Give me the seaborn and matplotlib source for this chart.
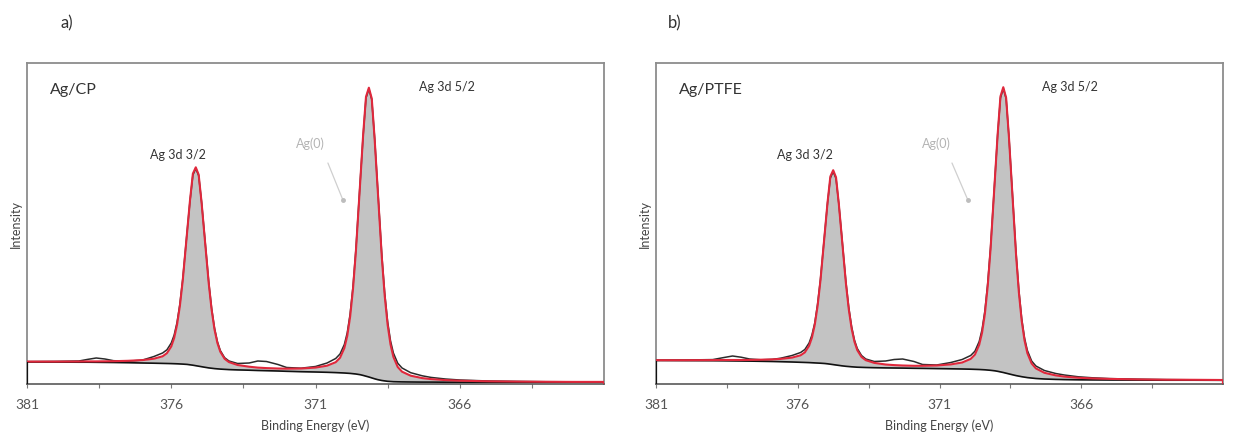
import matplotlib
matplotlib.use("Agg")
import matplotlib.pyplot as plt
import pandas as pd
import seaborn as sns

# ---------------- Ag 3d spectra ----------------
# Panel a: Ag/CP  (binding energy in eV, intensity in a.u.)
be_cp = [
    381.0, 380.0, 379.2, 378.9, 378.6, 378.3, 378.0, 377.5, 377.0, 376.6,
    376.3, 376.15, 376.0, 375.9, 375.8, 375.7, 375.6, 375.45, 375.35, 375.25,
    375.15, 375.05, 374.95, 374.85, 374.7, 374.6, 374.5, 374.4, 374.3, 374.15,
    374.0, 373.7, 373.3, 373.0, 372.7, 372.3, 372.0, 371.5, 371.0, 370.6,
    370.3, 370.15, 370.0, 369.9, 369.8, 369.7, 369.6, 369.45, 369.35, 369.25,
    369.15, 369.05, 368.95, 368.85, 368.7, 368.6, 368.5, 368.4, 368.3, 368.15,
    368.0, 367.7, 367.3, 367.0, 366.5, 366.0, 365.0, 364.0, 363.0, 362.0,
    361.0,
]
raw_cp = [
    22.4, 22.6, 23.0, 24.6, 26.0, 25.0, 23.3, 22.8, 23.9, 27.5,
    31.0, 34.2, 41.0, 48.9, 61.5, 80.1, 105.5, 152.5, 183.0, 209.0,
    215.5, 208.5, 182.5, 150.5, 102.0, 75.7, 56.0, 42.4, 33.5, 26.3,
    23.0, 20.5, 21.0, 23.0, 22.5, 19.5, 16.5, 15.8, 17.5, 21.0,
    25.5, 30.0, 39.5, 51.2, 70.0, 97.7, 134.5, 203.0, 248.0, 286.0,
    295.0, 284.5, 246.0, 199.0, 128.5, 90.7, 62.5, 43.2, 31.0, 20.8,
    16.0, 11.3, 8.2, 6.6, 5.0, 4.0, 3.0, 2.6, 2.3, 2.2,
    2.1,
]
fit_cp = [
    22.4, 22.4, 22.5, 22.6, 22.6, 22.7, 22.8, 23.2, 23.9, 25.3,
    27.7, 30.8, 37.5, 45.9, 59.1, 78.3, 104.1, 151.9, 183.7, 210.4,
    216.7, 209.4, 181.8, 149.1, 100.4, 74.1, 54.4, 41.0, 32.3, 25.2,
    21.9, 19.0, 17.3, 16.4, 15.9, 15.5, 15.3, 15.5, 16.4, 18.3,
    21.8, 26.2, 35.9, 48.0, 67.2, 95.2, 132.7, 202.1, 248.4, 287.2,
    296.3, 285.5, 245.0, 197.2, 126.1, 87.9, 59.2, 39.6, 27.1, 17.0,
    12.3, 8.3, 5.9, 4.9, 3.9, 3.3, 2.7, 2.4, 2.2, 2.1,
    2.1,
]
bkg_cp = [
    22.0, 21.9, 21.8, 21.8, 21.7, 21.6, 21.5, 21.3, 21.0, 20.8,
    20.6, 20.5, 20.4, 20.3, 20.2, 20.05, 19.9, 19.6, 19.2, 18.8,
    18.3, 17.8, 17.3, 16.8, 16.1, 15.75, 15.4, 15.15, 14.9, 14.65,
    14.4, 14.1, 13.8, 13.5, 13.3, 13.0, 12.7, 12.3, 12.0, 11.7,
    11.4, 11.2, 11.0, 10.8, 10.6, 10.3, 10.0, 9.3, 8.6, 7.8,
    7.0, 6.1, 5.2, 4.4, 3.5, 3.1, 2.7, 2.5, 2.3, 2.2,
    2.1, 2.0, 1.9, 1.9, 1.8, 1.8, 1.8, 1.8, 1.8, 1.8,
    1.8,
]

# Panel b: Ag/PTFE
be_ptfe = [
    381.0, 380.0, 379.0, 378.6, 378.3, 378.0, 377.7, 377.3, 376.9, 376.6,
    376.2, 375.9, 375.75, 375.6, 375.5, 375.4, 375.3, 375.2, 375.05, 374.95,
    374.85, 374.75, 374.65, 374.55, 374.45, 374.3, 374.2, 374.1, 374.0, 373.9,
    373.75, 373.6, 373.3, 372.9, 372.6, 372.3, 371.9, 371.6, 371.1, 370.6,
    370.2, 369.9, 369.75, 369.6, 369.5, 369.4, 369.3, 369.2, 369.05, 368.95,
    368.85, 368.75, 368.65, 368.55, 368.45, 368.3, 368.2, 368.1, 368.0, 367.9,
    367.75, 367.6, 367.3, 366.9, 366.6, 366.1, 365.6, 365.0, 364.0, 363.0,
    362.0, 361.0,
]
raw_ptfe = [
    23.8, 24.0, 24.4, 26.5, 28.0, 26.8, 25.0, 24.2, 24.6, 25.8,
    28.5, 31.5, 34.5, 41.0, 49.0, 61.0, 80.0, 104.5, 150.5, 181.0,
    206.0, 212.5, 205.5, 180.0, 149.0, 102.0, 76.5, 57.5, 44.0, 35.5,
    28.5, 25.0, 22.5, 23.0, 24.5, 25.0, 22.5, 19.5, 19.0, 21.5,
    24.5, 28.5, 32.8, 42.5, 54.3, 73.0, 100.5, 136.5, 204.0, 249.0,
    286.0, 295.5, 285.5, 247.5, 201.0, 131.5, 93.8, 65.5, 46.0, 33.5,
    23.0, 18.0, 13.5, 10.5, 9.0, 7.2, 6.2, 5.4, 4.8, 4.4,
    4.2, 4.1,
]
fit_ptfe = [
    23.8, 23.8, 23.9, 24.0, 24.0, 24.0, 24.1, 24.3, 24.6, 25.1,
    26.4, 28.7, 31.6, 38.2, 46.3, 59.2, 78.1, 103.3, 150.0, 181.3,
    207.5, 213.8, 206.7, 179.7, 147.8, 100.3, 74.7, 55.4, 42.3, 33.8,
    27.0, 23.8, 21.1, 19.5, 18.9, 18.5, 18.2, 18.2, 18.5, 19.6,
    21.5, 25.1, 29.4, 39.1, 51.1, 70.0, 97.7, 134.7, 203.3, 249.2,
    287.6, 296.8, 286.3, 246.6, 199.4, 129.3, 91.5, 63.0, 43.5, 30.8,
    20.5, 15.6, 11.2, 8.6, 7.4, 6.2, 5.6, 5.1, 4.6, 4.3,
    4.2, 4.0,
]
bkg_ptfe = [
    23.5, 23.4, 23.3, 23.2, 23.1, 23.0, 22.9, 22.7, 22.5, 22.3,
    22.0, 21.7, 21.55, 21.4, 21.25, 21.1, 20.95, 20.8, 20.5, 20.2,
    19.8, 19.4, 19.0, 18.6, 18.2, 17.7, 17.45, 17.2, 17.0, 16.8,
    16.65, 16.5, 16.3, 16.1, 16.0, 15.9, 15.7, 15.6, 15.4, 15.2,
    15.0, 14.8, 14.65, 14.5, 14.35, 14.2, 13.95, 13.7, 13.2, 12.7,
    12.1, 11.5, 10.8, 10.1, 9.4, 8.4, 7.85, 7.3, 6.85, 6.4,
    5.95, 5.5, 5.0, 4.6, 4.4, 4.2, 4.1, 4.0, 3.9, 3.8,
    3.8, 3.7,
]

major_ticks = [381, 376, 371, 366]
minor_ticks = [378.5, 373.5, 368.5, 363.5]

# ---------------- style ----------------
sns.set_theme(style="white")
plt.rcParams["font.family"] = ["Lato", "DejaVu Sans"]

RED = "#e0283c"
RAW = "#2b2b2b"
BKG = "#111111"
FILL = "#c3c3c3"
FRAME = "#8c8c8c"
TEXT = "#333333"


def panel_frame(be, raw, fit, bkg):
    for arr in (raw, fit, bkg):
        if len(arr) != len(be):
            raise ValueError("series length mismatch")
    return pd.DataFrame({"be": be, "raw": raw, "fit": fit, "bkg": bkg})


def draw_panel(ax, df, sample, lbl32, lbl52, lbl0, leader):
    ax.fill_between(df["be"], df["bkg"], df["fit"], color=FILL, lw=0, zorder=1)
    sns.lineplot(data=df, x="be", y="raw", ax=ax, color=RAW, lw=1.1,
                 estimator=None, sort=False, zorder=3)
    sns.lineplot(data=df, x="be", y="bkg", ax=ax, color=BKG, lw=1.2,
                 estimator=None, sort=False, zorder=3)
    sns.lineplot(data=df, x="be", y="fit", ax=ax, color=RED, lw=1.5,
                 estimator=None, sort=False, zorder=4)
    # closing segments at both ends of the scan
    ax.vlines(df["be"].iloc[0], 0, df["bkg"].iloc[0], color=BKG, lw=1.6, zorder=5)
    ax.vlines(df["be"].iloc[-1], 0, df["fit"].iloc[-1], color=RED, lw=1.6, zorder=5)

    ax.set_xlim(381, 361)
    ax.set_ylim(0, 321)
    ax.set_xticks(major_ticks)
    ax.set_xticklabels([str(t) for t in major_ticks])
    ax.set_xticks(minor_ticks, minor=True)
    ax.set_yticks([])
    ax.tick_params(axis="x", which="both", direction="out", length=3,
                   width=0.8, color="#7a7a7a", pad=8, labelsize=10,
                   labelcolor="#555555", bottom=True)
    for side, sp in ax.spines.items():
        sp.set_visible(True)
        sp.set_color(FRAME)
        sp.set_linewidth(1.3)
    ax.spines["bottom"].set_color("#4a4a4a")
    ax.spines["bottom"].set_linewidth(1.1)

    ax.set_xlabel("Binding Energy (eV)", fontsize=9, color="#444444", labelpad=6)
    ax.set_ylabel("Intensity", fontsize=9, color="#444444", labelpad=4)

    ax.text(0.04, 0.915, sample, transform=ax.transAxes, fontsize=11.5,
            color=TEXT, ha="left", va="center")
    ax.text(lbl32[0], lbl32[1], "Ag 3d 3/2", fontsize=9, color=TEXT,
            ha="center", va="center")
    ax.text(lbl52[0], lbl52[1], "Ag 3d 5/2", fontsize=9, color=TEXT,
            ha="center", va="center")
    ax.text(lbl0[0], lbl0[1], "Ag(0)", fontsize=9, color="#b4b4b4",
            ha="center", va="center")
    (x0, y0), (x1, y1) = leader
    ax.plot([x0, x1], [y0, y1], color="#cfcfcf", lw=0.9, zorder=2)
    ax.plot([x1], [y1], "o", color="#bdbdbd", ms=2.5, zorder=2)


fig = plt.figure(figsize=(12.33, 4.43), dpi=100)
ax_a = fig.add_axes([27 / 1233, 59 / 443, 577 / 1233, 321 / 443])
ax_b = fig.add_axes([656 / 1233, 59 / 443, 567 / 1233, 321 / 443])

draw_panel(ax_a, panel_frame(be_cp, raw_cp, fit_cp, bkg_cp), "Ag/CP",
           (375.77, 229), (366.46, 297), (371.19, 240),
           ((370.57, 221), (370.05, 184)))
draw_panel(ax_b, panel_frame(be_ptfe, raw_ptfe, fit_ptfe, bkg_ptfe), "Ag/PTFE",
           (375.74, 229), (366.41, 297), (371.12, 240),
           ((370.56, 221), (370.0, 184)))

fig.text(67 / 1233, 1 - 23 / 443, "a)", fontsize=12, color=TEXT,
         ha="center", va="center")
fig.text(675 / 1233, 1 - 23 / 443, "b)", fontsize=12, color=TEXT,
         ha="center", va="center")

fig.savefig("out.png", dpi=100)
